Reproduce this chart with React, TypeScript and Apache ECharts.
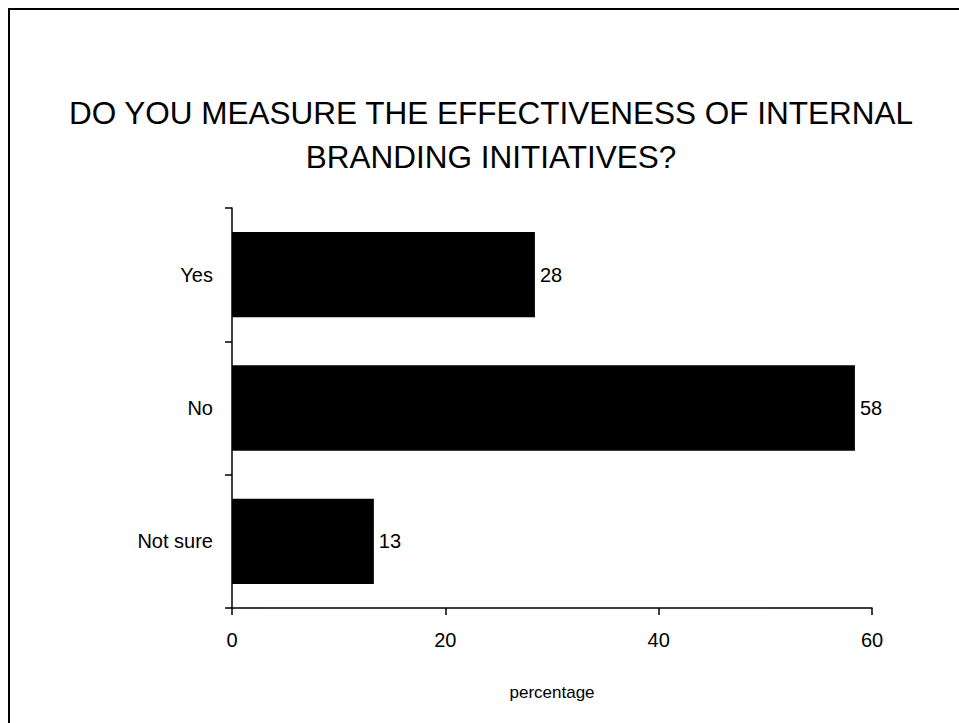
import React, { useEffect, useRef } from "react";
import * as echarts from "echarts";

const titleText = "DO YOU MEASURE THE EFFECTIVENESS OF INTERNAL\nBRANDING INITIATIVES?";
const categories = ["Yes", "No", "Not sure"];
const values = [28.4, 58.4, 13.3];
const xTicks = [0, 20, 40, 60];
const xAxisName = "percentage";

const FONT = "'Liberation Sans', Arial, Helvetica, sans-serif";

export default function App() {
  const ref = useRef<HTMLDivElement>(null);
  useEffect(() => {
    if (!ref.current) return;
    const chart = echarts.init(ref.current, undefined, { renderer: "svg" });
    chart.setOption({
      animation: false,
      backgroundColor: "#ffffff",
      textStyle: { fontFamily: FONT, color: "#000" },
      graphic: [
        {
          type: "polyline",
          shape: { points: [[1, 715], [1, 1], [951, 1]] },
          style: { stroke: "#000", lineWidth: 2, fill: "none" },
          silent: true,
        },
        {
          type: "text",
          x: 483,
          y: 127,
          style: {
            text: titleText,
            fontFamily: FONT,
            fontSize: 31.5,
            lineHeight: 44,
            fill: "#000",
            textAlign: "center",
            textVerticalAlign: "middle",
          },
        },
      ],
      grid: { left: 224, right: 87, top: 200, bottom: 115, containLabel: false },
      xAxis: {
        type: "value",
        min: xTicks[0],
        max: xTicks[xTicks.length - 1],
        interval: xTicks[1] - xTicks[0],
        name: xAxisName,
        nameLocation: "middle",
        nameGap: 76,
        nameTextStyle: { fontFamily: FONT, fontSize: 17, color: "#000" },
        axisLine: { show: true, lineStyle: { color: "#000", width: 1.5 } },
        axisTick: { show: true, length: 7, lineStyle: { color: "#000", width: 1.5 } },
        axisLabel: { fontFamily: FONT, fontSize: 20, color: "#000", margin: 22 },
        splitLine: { show: false },
      },
      yAxis: {
        type: "category",
        data: categories,
        inverse: true,
        axisLine: { show: true, lineStyle: { color: "#000", width: 1.5 } },
        axisTick: { show: true, length: 7, lineStyle: { color: "#000", width: 1.5 } },
        axisLabel: { fontFamily: FONT, fontSize: 20, color: "#000", margin: 19 },
      },
      series: [
        {
          type: "bar",
          data: values,
          barWidth: "64%",
          itemStyle: { color: "#000" },
          label: {
            show: true,
            position: "right",
            distance: 5,
            fontFamily: FONT,
            fontSize: 20,
            color: "#000",
            formatter: (p: any) => String(Math.round(p.value)),
          },
        },
      ],
    });
    return () => chart.dispose();
  }, []);
  return (
    <div
      ref={ref}
      style={{ position: "fixed", left: 8, top: 8, width: 951, height: 715 }}
    />
  );
}
